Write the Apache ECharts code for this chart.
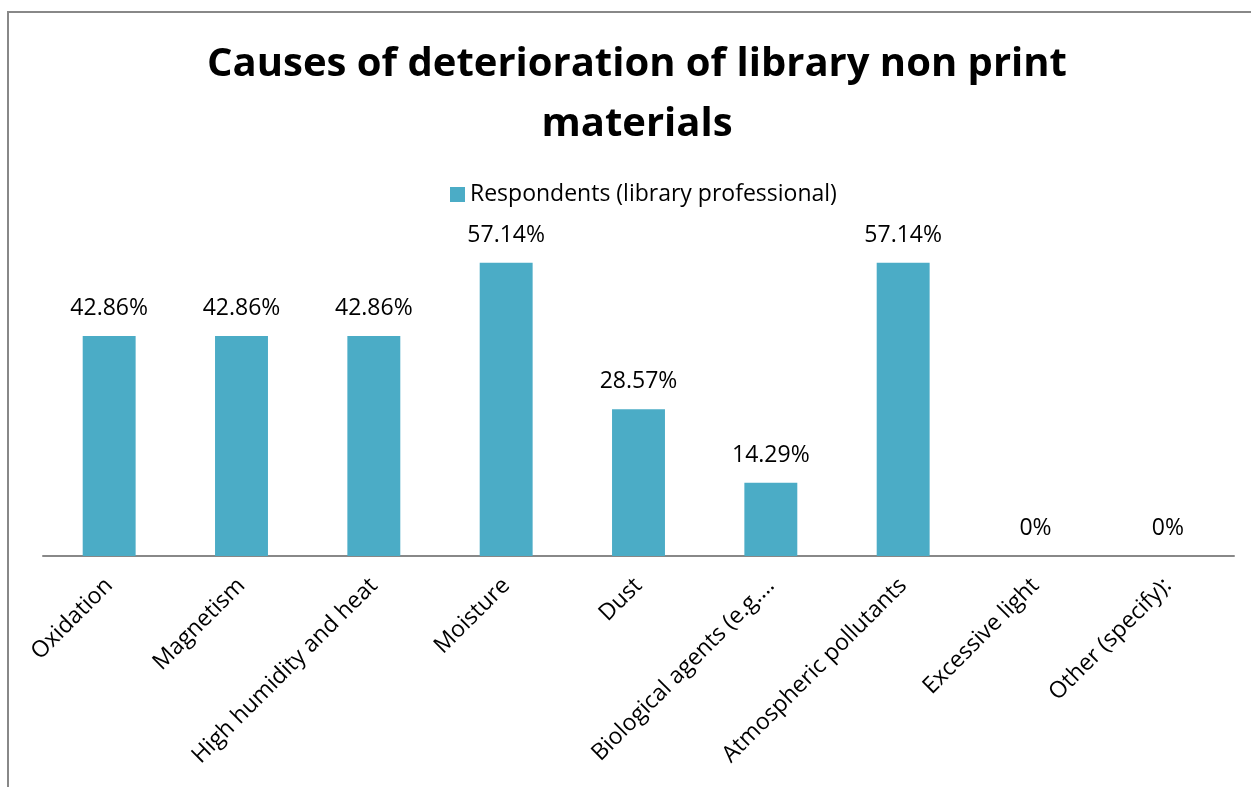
<!DOCTYPE html>
<html>
<head>
<meta charset="utf-8">
<script src="https://cdn.jsdelivr.net/npm/echarts@6/dist/echarts.min.js"></script>
<style>
  html, body { margin: 0; padding: 0; background: #fff; }
  #chart { width: 1251px; height: 787px; }
</style>
</head>
<body>
<div id="chart"></div>
<script>
const categories = [
  'Oxidation',
  'Magnetism',
  'High humidity and heat',
  'Moisture',
  'Dust',
  'Biological agents (e.g.…',
  'Atmospheric pollutants',
  'Excessive light',
  'Other (specify):'
]
const respondents = [42.86, 42.86, 42.86, 57.14, 28.57, 14.29, 57.14, 0, 0]
const seriesName = 'Respondents (library professional)'

const font = '"Open Sans", Lato, sans-serif'
const barColor = '#4BACC6'

const chart = echarts.init(document.getElementById('chart'))

chart.setOption({
  backgroundColor: '#fff',
  animation: false,
  title: {
    text: 'Causes of deterioration of library non print\nmaterials',
    left: 632,
    textAlign: 'center',
    top: 30,
    textStyle: {
      fontFamily: font,
      fontWeight: 'bold',
      fontSize: 40,
      lineHeight: 60,
      color: '#000'
    }
  },
  legend: {
    data: [seriesName],
    left: 445,
    top: 178,
    icon: 'rect',
    itemWidth: 15,
    itemHeight: 15,
    itemGap: 8,
    textStyle: { fontFamily: font, fontSize: 23, color: '#000' }
  },
  grid: { left: 43, right: 17, top: 248, bottom: 231, containLabel: false },
  xAxis: {
    type: 'category',
    data: categories,
    axisLine: { lineStyle: { color: '#888', width: 2 } },
    axisTick: { show: false },
    axisLabel: {
      rotate: 45,
      interval: 0,
      margin: 26,
      fontFamily: font,
      fontSize: 23,
      color: '#000'
    }
  },
  yAxis: {
    type: 'value',
    min: 0,
    max: 60,
    show: false
  },
  series: [{
    name: seriesName,
    type: 'bar',
    data: respondents,
    barWidth: '40%',
    itemStyle: { color: barColor },
    label: {
      show: true,
      position: 'top',
      distance: 16,
      fontFamily: font,
      fontSize: 23,
      color: '#000',
      formatter: p => p.value === 0 ? '0%' : p.value.toFixed(2) + '%'
    }
  }],
  graphic: [{
    type: 'rect',
    shape: { x: 8, y: 12, width: 1400, height: 1000 },
    style: { fill: 'none', stroke: '#888', lineWidth: 2 },
    silent: true
  }]
})
</script>
</body>
</html>
